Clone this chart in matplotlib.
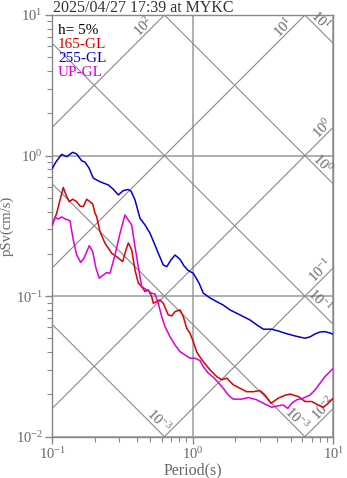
#!/usr/bin/env python3

import numpy as np
import matplotlib
matplotlib.use("Agg")
import matplotlib.pyplot as plt
from matplotlib.ticker import LogLocator, NullFormatter

# ----------------------------
# Data
# ----------------------------
TITLE = "2025/04/27 17:39 at MYKC"
DAMPING = "h= 5%"

period_165 = [0.100, 0.1075, 0.1135, 0.1197, 0.1252, 0.132, 0.1397, 0.1492, 0.1574, 0.1662,
              0.1757, 0.1854, 0.1939, 0.201, 0.207, 0.2185, 0.2372, 0.2647, 0.2872, 0.317,
              0.3346, 0.3475, 0.3673, 0.3878, 0.4093, 0.4327, 0.457, 0.4823, 0.5099, 0.5235,
              0.5534, 0.584, 0.6166, 0.669, 0.7076, 0.7468, 0.8106, 0.8557, 0.905, 0.955,
              1.008, 1.066, 1.125, 1.188, 1.326, 1.479, 1.606, 1.743, 1.942, 2.168,
              2.418, 2.696, 3.008, 3.266, 3.603, 4.06, 4.53, 4.92, 5.64, 6.29,
              7.02, 7.82, 8.49, 9.21, 10.0]
psv_165 = [0.321, 0.389, 0.483, 0.593, 0.525, 0.470, 0.489, 0.470, 0.438, 0.433,
           0.489, 0.470, 0.453, 0.391, 0.367, 0.2875, 0.2378, 0.2019, 0.191, 0.176,
           0.2132, 0.239, 0.2132, 0.1536, 0.124, 0.1168, 0.108, 0.1107, 0.0992, 0.0890,
           0.0914, 0.0940, 0.0890, 0.0735, 0.0723, 0.0776, 0.0798, 0.0715, 0.0591, 0.0545,
           0.0475, 0.0401, 0.0369, 0.0342, 0.0299, 0.0268, 0.0254, 0.0261, 0.0234, 0.0221,
           0.0209, 0.0209, 0.0213, 0.0198, 0.0173, 0.0188, 0.0197, 0.0201, 0.0193, 0.0178,
           0.0178, 0.0168, 0.0162, 0.0173, 0.0188]

period_255 = [0.100, 0.106, 0.1166, 0.1266, 0.1396, 0.149, 0.1618, 0.171, 0.1824, 0.196,
              0.2185, 0.2503, 0.2704, 0.295, 0.320, 0.3457, 0.363, 0.3878, 0.421, 0.457,
              0.496, 0.538, 0.568, 0.6166, 0.652, 0.6998, 0.747, 0.811, 0.866, 0.929,
              1.008, 1.107, 1.188, 1.326, 1.479, 1.64, 1.84, 2.17, 2.55, 2.86,
              3.18, 3.64, 4.04, 4.53, 5.33, 6.29, 6.82, 7.41, 8.04, 8.73,
              9.47, 10.0]
psv_255 = [0.812, 0.90, 1.02, 0.982, 1.055, 1.027, 0.920, 0.896, 0.817, 0.690,
           0.652, 0.618, 0.579, 0.525, 0.563, 0.574, 0.560, 0.483, 0.358, 0.321,
           0.280, 0.231, 0.2018, 0.1667, 0.162, 0.181, 0.196, 0.183, 0.164, 0.152,
           0.1455, 0.124, 0.105, 0.0971, 0.0914, 0.0866, 0.0798, 0.0735, 0.0677, 0.0624,
           0.0582, 0.0582, 0.0566, 0.0545, 0.0521, 0.0502, 0.0513, 0.0538, 0.0556, 0.0559,
           0.0547, 0.0534]

period_up = [0.100, 0.1045, 0.1103, 0.1167, 0.1232, 0.130, 0.1337, 0.1411, 0.1492, 0.1592,
             0.168, 0.1834, 0.1939, 0.2046, 0.2161, 0.2307, 0.2438, 0.2574, 0.2794, 0.3033,
             0.3292, 0.3475, 0.3673, 0.3878, 0.4093, 0.4327, 0.4697, 0.5099, 0.5383, 0.568,
             0.6006, 0.634, 0.688, 0.7468, 0.8106, 0.880, 0.955, 1.037, 1.125, 1.188,
             1.289, 1.399, 1.519, 1.649, 1.789, 1.942, 2.228, 2.483, 2.85, 3.176,
             3.643, 4.06, 4.41, 4.74, 5.06, 5.49, 6.12, 6.83, 7.41, 8.04,
             8.73, 10.0]
psv_up = [0.326, 0.364, 0.354, 0.366, 0.354, 0.348, 0.343, 0.251, 0.196, 0.174,
          0.186, 0.2287, 0.2073, 0.158, 0.134, 0.1415, 0.147, 0.1455, 0.196, 0.280,
          0.378, 0.348, 0.321, 0.225, 0.162, 0.1168, 0.1107, 0.1049, 0.1036, 0.0890,
          0.0715, 0.0607, 0.0515, 0.045, 0.0403, 0.0382, 0.0362, 0.0362, 0.0348, 0.0315,
          0.0283, 0.0265, 0.0243, 0.0221, 0.0198, 0.0185, 0.0185, 0.019, 0.0183, 0.0173,
          0.0162, 0.0166, 0.0168, 0.0159, 0.0173, 0.0183, 0.0188, 0.0198, 0.0215, 0.0240,
          0.0268, 0.0307]

SERIES = [
    ("165-GL", period_165, psv_165, "#dd0000"),
    ("255-GL", period_255, psv_255, "#0000dd"),
    ("UP-GL", period_up, psv_up, "#dd00dd"),
]

# tripartite guide lines: displacement (cm) and acceleration (cm/s^2)
DISP_LEVELS = [1e-3, 1e-2, 1e-1, 1e0, 1e1]
ACC_LEVELS = [1e-2, 1e-1, 1e0, 1e1, 1e2]

# label text and period where it sits along the line
DISP_LABELS = [("10$^{-3}$", 1e-3, 0.525), ("10$^{-3}$", 1e-2, 5.08),
               ("10$^{-1}$", 1e-1, 7.36), ("10$^{0}$", 1e0, 7.81),
               ("10$^{1}$", 1e1, 7.47)]
ACC_LABELS = [("10$^{-2}$", 1e-2, 9.21), ("10$^{-1}$", 1e-1, 8.84),
              ("10$^{0}$", 1e0, 9.06), ("10$^{1}$", 1e1, 4.76),
              ("10$^{2}$", 1e2, 0.485)]

X_TICKS = [0.1, 1, 10]
X_TICK_LABELS = ["10$^{-1}$", "10$^{0}$", "10$^{1}$"]
Y_TICKS = [0.01, 0.1, 1, 10]
Y_TICK_LABELS = ["10$^{-2}$", "10$^{-1}$", "10$^{0}$", "10$^{1}$"]

# ----------------------------
# Style
# ----------------------------
plt.rcParams["font.family"] = ["Liberation Serif", "DejaVu Serif"]
plt.rcParams["mathtext.fontset"] = "custom"
plt.rcParams["mathtext.rm"] = "Liberation Serif"
plt.rcParams["mathtext.it"] = "Liberation Serif:italic"
plt.rcParams["mathtext.default"] = "rm"

AXIS_GRAY = "#888888"
TEXT_GRAY = "#666666"


def main():
    fig = plt.figure(figsize=(3.47, 4.78), dpi=100)
    ax = fig.add_axes([0.1507, 0.0864, 0.8098, 0.8822])

    ax.set_xscale("log")
    ax.set_yscale("log")

    # --- tripartite diagonals ---
    t = np.logspace(-1.5, 1.5, 100)
    for d in DISP_LEVELS:
        ax.plot(t, 2 * np.pi * d / t, color="#8a8a8a", lw=0.8, zorder=1)
    for a in ACC_LEVELS:
        ax.plot(t, a * t / (2 * np.pi), color="#8a8a8a", lw=0.8, zorder=1)

    for text, d, tp in DISP_LABELS:
        ax.annotate(text, xy=(tp, 2 * np.pi * d / tp), xytext=(3.4, 3.4),
                    textcoords="offset points", rotation=-45, rotation_mode="anchor",
                    ha="center", va="center", fontsize=10.5, color=TEXT_GRAY,
                    annotation_clip=False)
    for text, a, tp in ACC_LABELS:
        ax.annotate(text, xy=(tp, a * tp / (2 * np.pi)), xytext=(-3.4, 3.4),
                    textcoords="offset points", rotation=45, rotation_mode="anchor",
                    ha="center", va="center", fontsize=10.5, color=TEXT_GRAY,
                    annotation_clip=False)

    # --- spectra ---
    for name, per, psv, col in SERIES:
        ax.plot(per, psv, color=col, lw=1.1, zorder=3)

    ax.set_xlim(0.1, 10)
    ax.set_ylim(0.01, 10)

    ax.grid(True, which="major", color="#9a9a9a", lw=1.1, zorder=0)
    ax.set_axisbelow(True)

    ax.set_xticks(X_TICKS)
    ax.set_xticklabels(X_TICK_LABELS)
    ax.set_yticks(Y_TICKS)
    ax.set_yticklabels(Y_TICK_LABELS)
    ax.xaxis.set_minor_locator(LogLocator(base=10, subs=np.arange(2, 10)))
    ax.yaxis.set_minor_locator(LogLocator(base=10, subs=np.arange(2, 10)))
    ax.xaxis.set_minor_formatter(NullFormatter())
    ax.yaxis.set_minor_formatter(NullFormatter())

    ax.tick_params(which="both", direction="out", top=False, right=False,
                   color=AXIS_GRAY, labelcolor=TEXT_GRAY, labelsize=10.5)
    ax.tick_params(which="major", length=5, width=1, pad=2)
    ax.tick_params(which="minor", length=3.5, width=0.8)
    for sp in ax.spines.values():
        sp.set_color(AXIS_GRAY)
        sp.set_linewidth(1)

    ax.set_xlabel("Period(s)", fontsize=11.5, color=TEXT_GRAY, labelpad=0)
    ax.set_ylabel("pSv(cm/s)", fontsize=10.5, color=TEXT_GRAY, labelpad=1)

    # --- legend-like text block ---
    ax.text(0.02, 0.964, DAMPING, transform=ax.transAxes, ha="left", va="center",
            fontsize=11, color="black")
    ys = [0.931, 0.897, 0.864]
    for (name, _, _, col), y in zip(SERIES, ys):
        ax.text(0.02, y, name, transform=ax.transAxes, ha="left", va="center",
                fontsize=11, color=col)

    fig.text(0.153, 0.975, TITLE, ha="left", va="baseline", fontsize=11.5,
             color="#333333")

    fig.savefig("out.png", dpi=100)
    print("[✓] Saved out.png")


if __name__ == "__main__":
    main()
